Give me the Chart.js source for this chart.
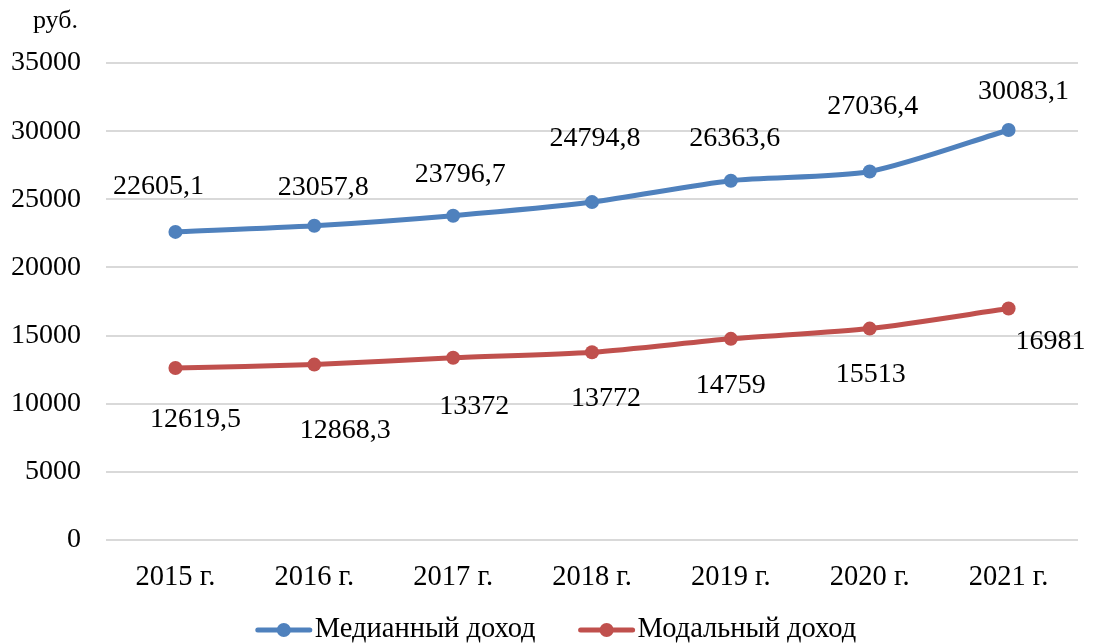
<!DOCTYPE html>
<html><head><meta charset="utf-8">
<script src="https://cdn.jsdelivr.net/npm/chart.js@4/dist/chart.umd.min.js"></script>
<style>html,body{margin:0;padding:0;background:#fff;}#wrap{width:1099px;height:643px;}</style>
</head><body><div id="wrap"><canvas id="c" width="1099" height="643"></canvas></div>
<script>
const categories = ['2015 г.','2016 г.','2017 г.','2018 г.','2019 г.','2020 г.','2021 г.'];
const medianIncome = [22605.1, 23057.8, 23796.7, 24794.8, 26363.6, 27036.4, 30083.1];
const modalIncome = [12619.5, 12868.3, 13372, 13772, 14759, 15513, 16981];
const medianLabelOffsets = [[-17,-45],[9,-38],[7,-41],[3,-63],[4,-42],[3,-65],[15,-38]];
const modalLabelOffsets = [[20,52],[31,66],[21,49],[14,46],[0,47],[1,46],[42,33]];
const FONT = "'Liberation Serif'";
const BLUE = '#4F81BD', RED = '#C0504D';

function fmt(v){ return String(v).replace('.', ','); }

const labelPlugin = {
  id: 'valueLabels',
  afterDatasetsDraw(chart){
    const ctx = chart.ctx;
    const offs = [medianLabelOffsets, modalLabelOffsets];
    ctx.save();
    ctx.font = '28px ' + FONT;
    ctx.fillStyle = '#000';
    ctx.textAlign = 'center'; ctx.textBaseline = 'middle';
    chart.data.datasets.forEach((ds, di) => {
      const meta = chart.getDatasetMeta(di);
      meta.data.forEach((pt, i) => {
        const o = offs[di][i];
        ctx.fillText(fmt(ds.data[i]), pt.x + o[0], pt.y + o[1]);
      });
    });
    const ys = chart.scales.y;
    ctx.textAlign = 'right';
    ctx.font = '26px ' + FONT;
    ctx.fillText('руб.', ys.right - 28, chart.chartArea.top - 42);

    ctx.font = '28.5px ' + FONT;
    ctx.textAlign = 'left';
    const iconW = 58, gap = 2, spacing = 42;
    const widths = chart.data.datasets.map(ds => iconW + gap + ctx.measureText(ds.label).width);
    const total = widths.reduce((a,b)=>a+b,0) + spacing*(widths.length-1);
    let x = chart.width/2 + 6 - total/2;
    const y = 630;
    chart.data.datasets.forEach((ds, di) => {
      ctx.strokeStyle = ds.borderColor; ctx.lineWidth = 5; ctx.lineCap = 'round';
      ctx.beginPath(); ctx.moveTo(x+3, y); ctx.lineTo(x+iconW-3, y); ctx.stroke();
      ctx.fillStyle = ds.borderColor; ctx.beginPath(); ctx.arc(x+iconW/2, y, 7, 0, Math.PI*2); ctx.fill();
      ctx.fillStyle = '#000';
      ctx.fillText(ds.label, x + iconW + gap, y);
      x += widths[di] + spacing;
    });
    ctx.restore();
  }
};

new Chart(document.getElementById('c'), {
  type: 'line',
  data: {
    labels: categories,
    datasets: [
      {label: 'Медианный доход', data: medianIncome, borderColor: BLUE, backgroundColor: BLUE,
       borderWidth: 5, pointRadius: 7, pointHoverRadius: 7, pointBorderWidth: 0, tension: 0.25},
      {label: 'Модальный доход', data: modalIncome, borderColor: RED, backgroundColor: RED,
       borderWidth: 5, pointRadius: 7, pointHoverRadius: 7, pointBorderWidth: 0, tension: 0.25}
    ]
  },
  options: {
    responsive: false,
    animation: false,
    devicePixelRatio: 1,
    layout: {padding: {top: 63, right: 21, left: 0, bottom: 48}},
    scales: {
      x: {
        offset: true,
        grid: {display: false, drawTicks: false},
        border: {display: false},
        ticks: {color: '#000', font: {family: FONT, size: 28.5}, padding: 20, maxRotation: 0},
        afterFit(s){ s.height = 55; }
      },
      y: {
        min: 0, max: 35000,
        grid: {color: '#D9D9D9', lineWidth: 2, drawTicks: false},
        border: {display: false},
        ticks: {stepSize: 5000, color: '#000', font: {family: FONT, size: 28}, padding: 25,
                callback: v => String(v)},
        afterFit(s){ s.width = 106; }
      }
    },
    plugins: {
      legend: {display: false},
      tooltip: {enabled: false}
    }
  },
  plugins: [labelPlugin]
});
</script>
</body></html>
